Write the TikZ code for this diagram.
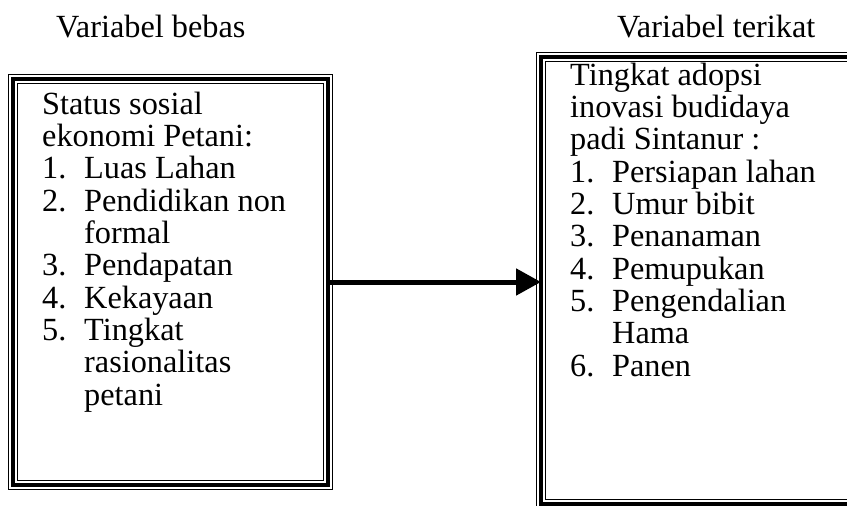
\documentclass[tikz,border=0pt]{standalone}
\usepackage{fontspec}
\setmainfont{Liberation Serif}
\usetikzlibrary{arrows.meta}
\newcommand{\butir}[2]{\makebox[42pt][l]{#1}#2}
\newcommand{\lanjut}[1]{\hspace*{42pt}#1}
\begin{document}
\begin{tikzpicture}[x=1pt,y=-1pt,
		bingkai/.style={draw, rectangle, inner sep=0pt, outer sep=0pt, line width=4.5pt,
			preaction={draw, line width=10.5pt}, preaction={draw, white, line width=8pt}},
		isi/.style={anchor=north west, inner sep=0pt, align=left, font=\fontsize{32.3}{32.3}\selectfont},
		judul/.style={anchor=base west, inner sep=0pt, font=\fontsize{32.3}{32.3}\selectfont}]
			\useasboundingbox (0,0) rectangle (847,506);
			\node[judul] (jbebas) at (56,37) {Variabel bebas};
			\node[judul] (jterikat) at (617,37) {Variabel terikat};
			\node[bingkai, minimum width=315pt, minimum height=406pt] (bebas) at (170.5,282) {};
			\node[bingkai, minimum width=319pt, minimum height=447pt] (terikat) at (700.5,280.5) {};
			\node[isi] (tbebas) at (42,91.5) {\strut Status sosial\\ekonomi Petani:\\\butir{1.}{Luas Lahan}\\\butir{2.}{Pendidikan non}\\\lanjut{formal}\\\butir{3.}{Pendapatan}\\\butir{4.}{Kekayaan}\\\butir{5.}{Tingkat}\\\lanjut{rasionalitas}\\\lanjut{petani}};
			\node[isi] (tterikat) at (570,62.5) {\strut Tingkat adopsi\\inovasi budidaya\\padi Sintanur :\\\butir{1.}{Persiapan lahan}\\\butir{2.}{Umur bibit}\\\butir{3.}{Penanaman}\\\butir{4.}{Pemupukan}\\\butir{5.}{Pengendalian}\\\lanjut{Hama}\\\butir{6.}{Panen}};
			\draw[line width=5pt, -{Triangle[length=25pt,width=26pt]}] (bebas.east) -- (terikat.west |- bebas.east);
		\end{tikzpicture}
\end{document}
